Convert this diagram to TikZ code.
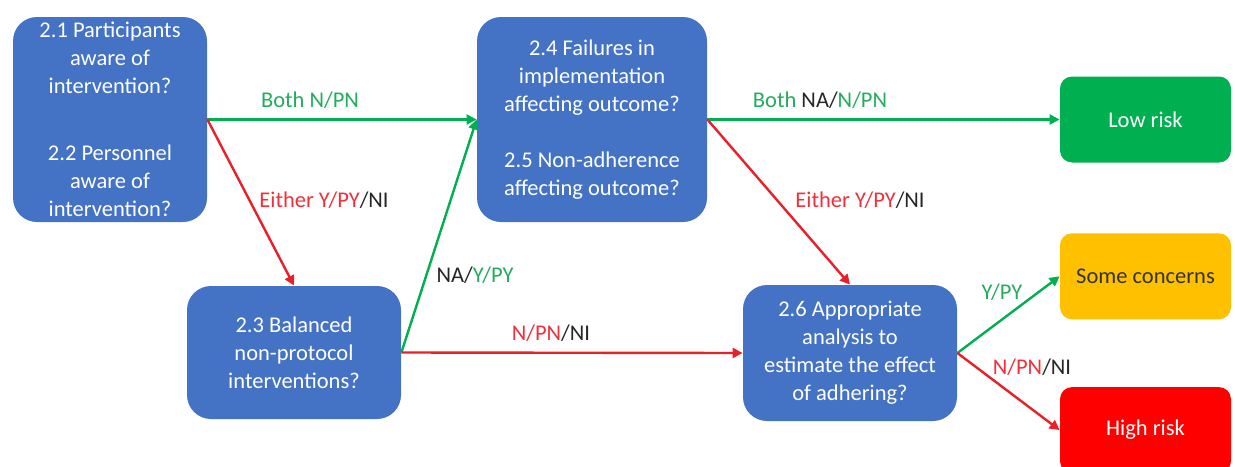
\documentclass[tikz,border=0pt]{standalone}
\usepackage{fontspec}
\setmainfont{Carlito}
\usepackage{tikz}
\usetikzlibrary{arrows.meta, positioning}
\definecolor{boxblue}{HTML}{4472C4}
\definecolor{riskgreen}{HTML}{00B050}
\definecolor{riskamber}{HTML}{FFC000}
\definecolor{riskred}{HTML}{FF0000}
\definecolor{linered}{HTML}{E8202A}
\definecolor{labelgreen}{HTML}{22AD5C}
\definecolor{labelred}{HTML}{F0303A}
\newcommand{\boxfont}{\fontsize{11.25}{14}\selectfont}
\tikzstyle{qbox} = [rectangle, rounded corners=12pt, fill=boxblue, text=white,
                    align=center, inner sep=0pt, font=\boxfont]
\tikzstyle{riskbox} = [rectangle, rounded corners=6pt, minimum width=85.5pt, minimum height=43pt,
                       align=center, inner sep=0pt, font=\boxfont]
\tikzstyle{answer} = [font=\boxfont, text=black!85, inner sep=1pt]
\tikzstyle{arrow} = [line width=1.2pt, -{Triangle[length=5pt, width=5pt]}]

\begin{document}
\begin{tikzpicture}[x=0.5pt, y=-0.5pt]
    \clip (0,0) rectangle (1235,466);
    % Signalling questions
    \node[qbox, minimum width=97pt, minimum height=102.5pt] (aware) at (110,119.5)
        {2.1 Participants\\aware of\\intervention?\\[19.5pt]2.2 Personnel\\aware of\\intervention?};
    \node[qbox, minimum width=115pt, minimum height=102.5pt] (failures) at (592,119.5)
        {2.4 Failures in\\implementation\\affecting outcome?\\[14pt]2.5 Non-adherence\\affecting outcome?};
    \node[qbox, minimum width=107pt, minimum height=66.5pt] (balanced) at (294,352.5)
        {2.3 Balanced\\non-protocol\\interventions?};
    \node[qbox, minimum width=107pt, minimum height=68pt] (analysis) at (850,353)
        {2.6 Appropriate\\analysis to\\estimate the effect\\of adhering?};
    
    % Risk of bias judgements
    \node[riskbox, fill=riskgreen, text=white] (low) at (1145.5,119.5) {Low risk};
    \node[riskbox, fill=riskamber, text=black!80, below=35pt of low] (some) {Some concerns};
    \node[riskbox, fill=riskred, text=white, below=33.5pt of some] (high) {High risk};
    
    % Arrows from 2.1/2.2
    \draw[arrow, riskgreen] (aware.east) -- (failures.west);
    \draw[arrow, linered] (aware.east) -- (balanced.north);
    
    % Arrows from 2.3
    \draw[arrow, riskgreen] (balanced.east) -- (failures.west);
    \draw[arrow, linered] (balanced.east) -- (analysis.west);
    
    % Arrows from 2.4/2.5
    \draw[arrow, riskgreen] (failures.east) -- (low.west);
    \draw[arrow, linered] (failures.east) -- (analysis.north);
    
    % Arrows from 2.6
    \draw[arrow, riskgreen] (analysis.east) -- (some.west);
    \draw[arrow, linered] (analysis.east) -- (high.west);
    
    % Answers
    \node[answer] (bothnpn) at (310,100) {\textcolor{labelgreen}{Both N/PN}};
    \node[answer] (eitherone) at (324,200) {\textcolor{labelred}{Either Y/PY}/NI};
    \node[answer] (bothna) at (820,100) {\textcolor{labelgreen}{Both} NA/\textcolor{labelgreen}{N/PN}};
    \node[answer] (eithertwo) at (860,200) {\textcolor{labelred}{Either Y/PY}/NI};
    \node[answer] (naypy) at (475,275) {NA/\textcolor{labelgreen}{Y/PY}};
    \node[answer] (npnone) at (551,333) {\textcolor{labelred}{N/PN}/NI};
    \node[answer] (ypy) at (1002,292) {\textcolor{labelgreen}{Y/PY}};
    \node[answer] (npntwo) at (1032,367) {\textcolor{labelred}{N/PN}/NI};
\end{tikzpicture}
\end{document}
